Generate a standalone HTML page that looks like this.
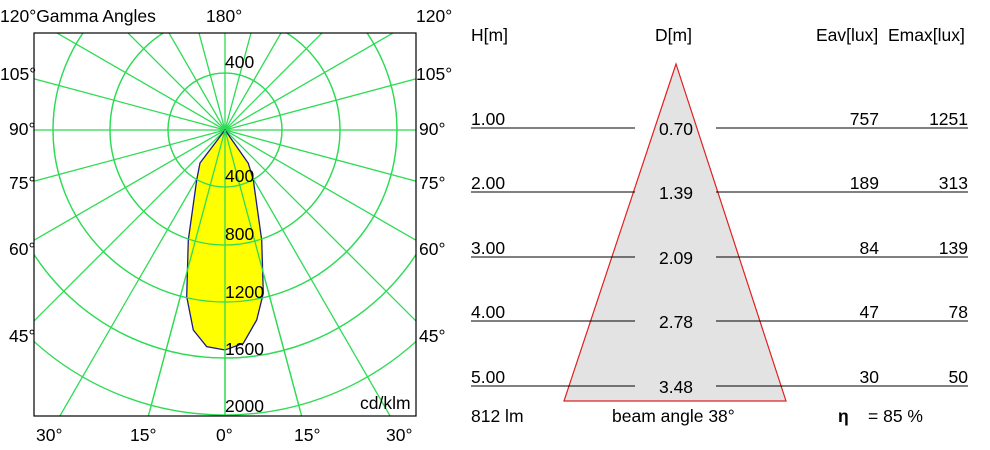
<!DOCTYPE html>
<html><head><style>html,body{margin:0;background:#fff;overflow:hidden}svg{display:block}svg text{font-family:"Liberation Sans",sans-serif;font-size:17.5px;fill:#000}</style></head><body>
<svg width="990" height="450" xmlns="http://www.w3.org/2000/svg">
<defs><clipPath id="c"><rect x="34" y="33" width="382" height="383"/></clipPath></defs>
<g clip-path="url(#c)" stroke="#2edb55" stroke-width="1.3" fill="none">
<circle cx="225" cy="130" r="57"/><circle cx="225" cy="130" r="115"/><circle cx="225" cy="130" r="172"/><circle cx="225" cy="130" r="228"/><circle cx="225" cy="130" r="285"/>
<line x1="-400" y1="130" x2="850" y2="130"/>
<line x1="-400" y1="130" x2="850" y2="130" transform="rotate(15 225 130)"/>
<line x1="-400" y1="130" x2="850" y2="130" transform="rotate(30 225 130)"/>
<line x1="-400" y1="130" x2="850" y2="130" transform="rotate(45 225 130)"/>
<line x1="-400" y1="130" x2="850" y2="130" transform="rotate(60 225 130)"/>
<line x1="-400" y1="130" x2="850" y2="130" transform="rotate(75 225 130)"/>
<line x1="-400" y1="130" x2="850" y2="130" transform="rotate(90 225 130)"/>
<line x1="-400" y1="130" x2="850" y2="130" transform="rotate(105 225 130)"/>
<line x1="-400" y1="130" x2="850" y2="130" transform="rotate(120 225 130)"/>
<line x1="-400" y1="130" x2="850" y2="130" transform="rotate(135 225 130)"/>
<line x1="-400" y1="130" x2="850" y2="130" transform="rotate(150 225 130)"/>
<line x1="-400" y1="130" x2="850" y2="130" transform="rotate(165 225 130)"/>
</g>
<path d="M225,130 L200,163 L196.7,180 L188.3,240 L186.7,296.7 L193.3,330 L206.7,346.7 L225,350 L243.3,343.3 L256.7,320 L263.3,293.3 L261.7,240 L253.3,180 L248.3,163.3 Z" fill="#ffff00" stroke="#1a1a8c" stroke-width="1.3"/>
<g clip-path="url(#c)" stroke="#2edb55" stroke-width="1.3" fill="none">
<circle cx="225" cy="130" r="57"/><circle cx="225" cy="130" r="115"/><circle cx="225" cy="130" r="172"/><circle cx="225" cy="130" r="228"/>
<line x1="225" y1="130" x2="225" y2="420"/>
<line x1="225" y1="130" x2="150" y2="410"/><line x1="225" y1="130" x2="300" y2="410"/>
</g>
<rect x="34" y="33" width="382" height="383" fill="none" stroke="#000" stroke-width="1.2"/>
<text x="0" y="22">120°Gamma Angles</text><text x="206" y="22">180°</text><text x="416" y="22">120°</text>
<text x="0" y="80">105°</text><text x="416" y="80">105°</text>
<text x="9" y="135">90°</text><text x="419" y="135">90°</text>
<text x="9" y="189">75°</text><text x="419" y="189">75°</text>
<text x="9" y="255">60°</text><text x="419" y="255">60°</text>
<text x="9" y="342">45°</text><text x="419" y="342">45°</text>
<text x="225" y="68">400</text><text x="225" y="182">400</text><text x="225" y="240">800</text><text x="225" y="298">1200</text><text x="225" y="355">1600</text><text x="225" y="412">2000</text>
<text x="360" y="409">cd/klm</text>
<text x="36" y="441">30°</text><text x="130" y="441">15°</text><text x="216" y="441">0°</text><text x="294" y="441">15°</text><text x="386" y="441">30°</text>
<polygon points="676,64 564,401 786,401" fill="#e3e3e3" stroke="#e02020" stroke-width="1.2"/>
<text x="471" y="41">H[m]</text><text x="655" y="41">D[m]</text><text x="816" y="41">Eav[lux]</text><text x="888" y="41">Emax[lux]</text>
<g stroke="#000" stroke-width="1">
<line x1="471" y1="128" x2="635" y2="128"/><line x1="716" y1="128" x2="968" y2="128"/>
<line x1="471" y1="192" x2="635" y2="192"/><line x1="716" y1="192" x2="968" y2="192"/>
<line x1="471" y1="257" x2="635" y2="257"/><line x1="716" y1="257" x2="968" y2="257"/>
<line x1="471" y1="321" x2="635" y2="321"/><line x1="716" y1="321" x2="968" y2="321"/>
<line x1="471" y1="386" x2="635" y2="386"/><line x1="716" y1="386" x2="968" y2="386"/>
</g>
<g><text x="471" y="125">1.00</text><text x="471" y="189">2.00</text><text x="471" y="254">3.00</text><text x="471" y="318">4.00</text><text x="471" y="383">5.00</text></g>
<g text-anchor="middle"><text x="676" y="135">0.70</text><text x="676" y="199">1.39</text><text x="676" y="264">2.09</text><text x="676" y="328">2.78</text><text x="676" y="393">3.48</text></g>
<g text-anchor="end"><text x="879" y="125">757</text><text x="879" y="189">189</text><text x="879" y="254">84</text><text x="879" y="318">47</text><text x="879" y="383">30</text>
<text x="968" y="125">1251</text><text x="968" y="189">313</text><text x="968" y="254">139</text><text x="968" y="318">78</text><text x="968" y="383">50</text></g>
<text x="471" y="422">812 lm</text><text x="612" y="422">beam angle 38°</text>
<text x="838" y="422" style="font-weight:bold">η</text><text x="868" y="422">= 85 %</text>
</svg>
</body></html>
